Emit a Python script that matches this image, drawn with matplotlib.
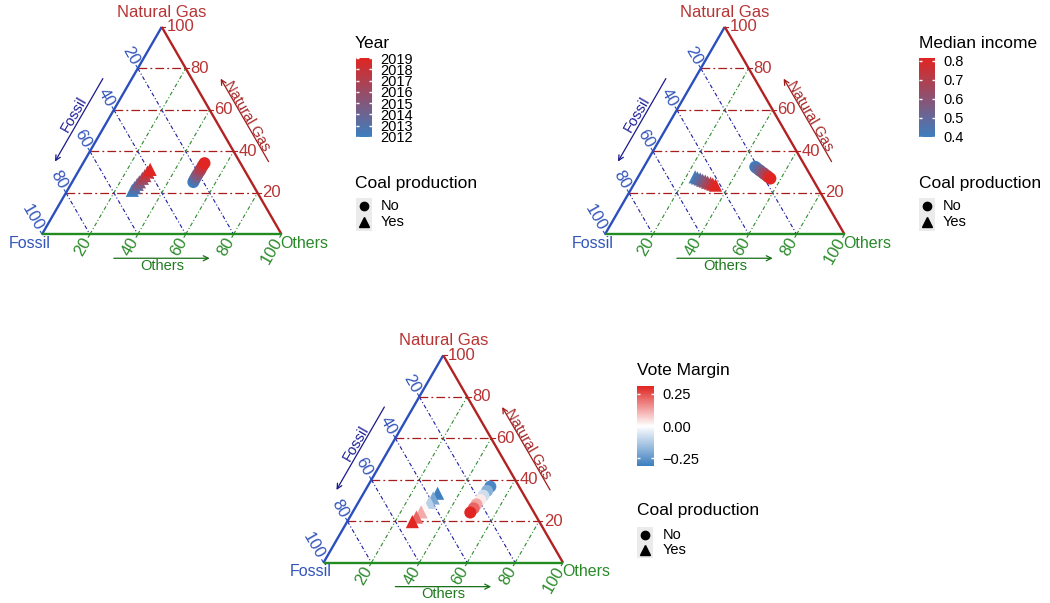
import numpy as np
import matplotlib
matplotlib.use("Agg")
import matplotlib.pyplot as plt
from matplotlib.colors import LinearSegmentedColormap, Normalize
from matplotlib.cm import ScalarMappable

plt.rcParams['font.family'] = ['Liberation Sans', 'DejaVu Sans']

# ---- data (shares in %) ----
years = [2012, 2013, 2014, 2015, 2016, 2017, 2018, 2019]
yr_fossil_no = [24.2, 23.1, 21.8, 20.6, 19.0, 17.9, 16.3, 15.0]
yr_gas_no = [25.2, 26.4, 27.7, 28.9, 30.4, 31.5, 33.1, 34.3]
yr_others_no = [50.6, 50.5, 50.5, 50.5, 50.6, 50.6, 50.6, 50.7]
yr_fossil_yes = [51.7, 50.1, 48.2, 46.7, 44.6, 42.9, 40.9, 39.2]
yr_gas_yes = [21.2, 22.5, 24.1, 25.3, 27.0, 28.3, 30.0, 31.3]
yr_others_yes = [27.1, 27.4, 27.7, 28.0, 28.4, 28.8, 29.1, 29.5]

inc_no = [0.398, 0.44, 0.49, 0.53, 0.58, 0.64, 0.69, 0.75, 0.814]
inc_fossil_no = [21.0, 20.7, 20.1, 19.8, 19.2, 18.9, 18.3, 18.0, 17.5]
inc_gas_no = [32.5, 31.9, 31.0, 30.5, 29.6, 29.1, 28.2, 27.7, 26.9]
inc_others_no = [46.5, 47.4, 48.9, 49.7, 51.2, 52.0, 53.5, 54.3, 55.6]
inc_yes = [0.41, 0.45, 0.50, 0.55, 0.60, 0.66, 0.71, 0.77, 0.81]
inc_fossil_yes = [48.5, 47.8, 46.9, 46.2, 45.3, 44.6, 43.6, 42.9, 42.0]
inc_gas_yes = [27.7, 27.2, 26.7, 26.1, 25.7, 25.1, 24.7, 24.2, 23.7]
inc_others_yes = [23.8, 25.0, 26.4, 27.7, 29.0, 30.3, 31.7, 32.9, 34.3]

vote_no = [-0.29, -0.19, -0.08, 0.03, 0.13, 0.22, 0.31]
vote_fossil_no = [12.0, 14.4, 17.1, 19.4, 22.1, 24.2, 26.6]
vote_gas_no = [36.7, 34.6, 32.3, 30.3, 28.1, 26.2, 24.2]
vote_others_no = [51.3, 51.0, 50.6, 50.3, 49.8, 49.6, 49.2]
vote_yes = [-0.307, -0.21, -0.11, 0.01, 0.12, 0.22, 0.312]
vote_fossil_yes = [35.6, 38.6, 41.2, 44.4, 47.0, 50.2, 53.0]
vote_gas_yes = [33.5, 31.2, 29.1, 26.5, 24.5, 22.0, 19.8]
vote_others_yes = [30.9, 30.2, 29.7, 29.1, 28.5, 27.8, 27.2]

grid_vals = [20, 40, 60, 80]
tick_vals = [20, 40, 60, 80, 100]

# ---- style ----
W, H = 1050, 603
S3 = np.sqrt(3) / 2
RED, BLUE, GREEN = '#B22222', '#2B50BD', '#228B22'
RED_T, BLUE_T, GREEN_T = '#B83333', '#3355BB', '#2A8A2A'
seq_cmap = LinearSegmentedColormap.from_list('seq', ['#3C7EBF', '#E02522'])
div_cmap = LinearSegmentedColormap.from_list('div', ['#3C7EBF', '#FFFFFF', '#E02522'])

fig = plt.figure(figsize=(W / 100, H / 100), dpi=100)


def px_axes(x0, y0, w, h):
    return fig.add_axes([x0 / W, 1 - (y0 + h) / H, w / W, h / H])


def ptext(x, y, s, **kw):
    fig.text(x / W, 1 - y / H, s, **kw)


def tern_xy(fossil, gas, others):
    f, g, o = (np.asarray(a, dtype=float) for a in (fossil, gas, others))
    tot = f + g + o
    return (o + g / 2) / tot, g * S3 / tot


def ternary(x0, y0, side):
    pad = 0.3
    ax = px_axes(x0 - pad * side, y0 - (S3 + pad) * side,
                 (1 + 2 * pad) * side, (S3 + 2 * pad) * side)
    ax.set_xlim(-pad, 1 + pad)
    ax.set_ylim(-pad, S3 + pad)
    ax.axis('off')
    ax.patch.set_alpha(0)

    # grid
    for v in grid_vals:
        x, y = tern_xy([100 - v, 0], [v, v], [0, 100 - v])
        ax.plot(x, y, color='#A81C1C', lw=0.9, ls=(0, (7, 2.5, 1.5, 2.5)), zorder=1)
        x, y = tern_xy([v, v], [100 - v, 0], [0, 100 - v])
        ax.plot(x, y, color='#1C1CA0', lw=0.8, ls=(0, (3.5, 2, 1, 2)), zorder=1)
        x, y = tern_xy([100 - v, 0], [0, 100 - v], [v, v])
        ax.plot(x, y, color='#2E8B2E', lw=0.8, ls=(0, (3.5, 2, 1, 2)), zorder=1)

    # edges
    x, y = tern_xy([100, 0], [0, 100], [0, 0])
    ax.plot(x, y, color=BLUE, lw=1.7, zorder=2, solid_capstyle='butt')
    x, y = tern_xy([0, 0], [100, 0], [0, 100])
    ax.plot(x, y, color=RED, lw=1.7, zorder=2, solid_capstyle='butt')
    x, y = tern_xy([100, 0], [0, 0], [0, 100])
    ax.plot(x, y, color=GREEN, lw=1.7, zorder=2, solid_capstyle='butt')

    # ticks and tick labels
    for v in tick_vals:
        px, py = tern_xy(0, v, 100 - v)
        ax.plot([px, px + 0.014], [py, py], color=RED, lw=0.8)
        ax.text(px + 0.02, py, str(v), color=RED_T, fontsize=12, ha='left', va='center')

        px, py = tern_xy(v, 100 - v, 0)
        d = np.array([-0.5, S3])
        ax.plot([px, px + 0.014 * d[0]], [py, py + 0.014 * d[1]], color=BLUE, lw=0.8)
        ax.text(px + 0.022 * d[0], py + 0.022 * d[1], str(v), color=BLUE_T, fontsize=12,
                ha='right', va='center', rotation=-60, rotation_mode='anchor')

        px, py = tern_xy(100 - v, 0, v)
        d = np.array([-0.5, -S3])
        ax.plot([px, px + 0.014 * d[0]], [py, py + 0.014 * d[1]], color=GREEN, lw=0.8)
        ax.text(px + 0.022 * d[0], py + 0.022 * d[1], str(v), color=GREEN_T, fontsize=12,
                ha='right', va='center', rotation=60, rotation_mode='anchor')

    # vertex titles
    ax.text(0.5, S3 + 0.06, 'Natural Gas', color=RED_T, fontsize=12, ha='center', va='center')
    ax.text(-0.052, -0.038, 'Fossil', color=BLUE_T, fontsize=11.5, ha='center', va='center')
    ax.text(0.996, -0.038, 'Others', color=GREEN_T, fontsize=11.5, ha='left', va='center')

    # arrows
    aprops = dict(arrowstyle='->', lw=0.9, mutation_scale=9, shrinkA=0, shrinkB=0)
    ax.annotate('', xy=(0.7, -0.1), xytext=(0.3, -0.1),
                arrowprops=dict(aprops, color='#167016'))
    ax.text(0.5, -0.132, 'Others', color='#1E7B1E', fontsize=10.5, ha='center', va='center')

    nl = np.array([-S3, 0.5])
    def lpt(t, off):
        return np.array([t / 2, t * S3]) + off * nl
    ax.annotate('', xy=lpt(0.29, 0.105), xytext=lpt(0.69, 0.105),
                arrowprops=dict(aprops, color='#1A1A8C'))
    p = lpt(0.5, 0.134)
    ax.text(p[0], p[1], 'Fossil', color='#1E1E96', fontsize=10.5, ha='center', va='center',
            rotation=60, rotation_mode='anchor')

    nr = np.array([S3, 0.5])
    def rpt(t, off):
        return np.array([1 - t / 2, t * S3]) + off * nr
    ax.annotate('', xy=rpt(0.69, 0.105), xytext=rpt(0.29, 0.105),
                arrowprops=dict(aprops, color='#A01C1C'))
    p = rpt(0.5, 0.122)
    ax.text(p[0], p[1], 'Natural Gas', color='#A52A2A', fontsize=10.5, ha='center', va='center',
            rotation=-60, rotation_mode='anchor')
    return ax


def colorbar(x0, y0, w, h, norm, cmap, ticks, labels, size):
    cax = px_axes(x0, y0, w, h)
    cb = fig.colorbar(ScalarMappable(norm=norm, cmap=cmap), cax=cax)
    cb.outline.set_visible(False)
    cb.minorticks_off()
    cb.set_ticks(ticks)
    cb.set_ticklabels(labels)
    cax.tick_params(axis='y', which='major', direction='in', length=2.5, width=1,
                    color='white', left=True, right=True, labelleft=False,
                    labelright=True, labelsize=size, pad=6)
    return cb


def coal_key(x0, y0, w, h, lab_x, y_no, y_yes):
    kax = px_axes(x0, y0, w, h)
    kax.set_facecolor('#EBEBEB')
    kax.set_xlim(0, 1)
    kax.set_ylim(0, 1)
    kax.set_xticks([])
    kax.set_yticks([])
    for s in kax.spines.values():
        s.set_visible(False)
    kax.plot([0.5], [1 - (y_no - y0) / h], 'o', color='black', ms=6)
    kax.plot([0.5], [1 - (y_yes - y0) / h], '^', color='black', ms=6.5)
    ptext(lab_x, y_no, 'No', fontsize=10.5, va='center')
    ptext(lab_x, y_yes, 'Yes', fontsize=10.5, va='center')


# ---- panel 1: year ----
ax1 = ternary(42, 234.3, 239.5)
norm1 = Normalize(vmin=min(years), vmax=max(years))
x, y = tern_xy(yr_fossil_no, yr_gas_no, yr_others_no)
ax1.scatter(x, y, c=years, cmap=seq_cmap, norm=norm1, marker='o', s=75, edgecolors='none', zorder=5)
x, y = tern_xy(yr_fossil_yes, yr_gas_yes, yr_others_yes)
ax1.scatter(x, y, c=years, cmap=seq_cmap, norm=norm1, marker='^', s=90, edgecolors='none', zorder=5)
ptext(355, 43, 'Year', fontsize=12.5, va='center')
colorbar(356, 58, 16, 79, norm1, seq_cmap, years, [str(v) for v in years], 10.5)
ptext(355, 183, 'Coal production', fontsize=12.5, va='center')
coal_key(356, 198, 16, 33, 381, 206, 222)

# ---- panel 2: median income ----
ax2 = ternary(605, 234.3, 239.5)
norm2 = Normalize(vmin=min(inc_no + inc_yes), vmax=max(inc_no + inc_yes))
x, y = tern_xy(inc_fossil_no, inc_gas_no, inc_others_no)
ax2.scatter(x, y, c=inc_no, cmap=seq_cmap, norm=norm2, marker='o', s=75, edgecolors='none', zorder=5)
x, y = tern_xy(inc_fossil_yes, inc_gas_yes, inc_others_yes)
ax2.scatter(x, y, c=inc_yes, cmap=seq_cmap, norm=norm2, marker='^', s=90, edgecolors='none', zorder=5)
ptext(919, 43, 'Median income', fontsize=12.5, va='center')
inc_ticks = [0.4, 0.5, 0.6, 0.7, 0.8]
colorbar(919, 58, 16, 79, norm2, seq_cmap, inc_ticks, [f'{v:.1f}' for v in inc_ticks], 10.5)
ptext(919, 183, 'Coal production', fontsize=12.5, va='center')
coal_key(919, 198, 16, 33, 943, 206, 222)

# ---- panel 3: vote margin ----
ax3 = ternary(323.5, 562.7, 239.5)
m = max(abs(v) for v in vote_no + vote_yes)
norm3 = Normalize(vmin=-m, vmax=m)
x, y = tern_xy(vote_fossil_no, vote_gas_no, vote_others_no)
ax3.scatter(x, y, c=vote_no, cmap=div_cmap, norm=norm3, marker='o', s=75, edgecolors='none', zorder=5)
x, y = tern_xy(vote_fossil_yes, vote_gas_yes, vote_others_yes)
ax3.scatter(x, y, c=vote_yes, cmap=div_cmap, norm=norm3, marker='^', s=90, edgecolors='none', zorder=5)
ptext(637, 370, 'Vote Margin', fontsize=12.5, va='center')
colorbar(637, 386, 17, 80, norm3, div_cmap, [-0.25, 0, 0.25], ['\u22120.25', '0.00', '0.25'], 10.5)
ptext(637, 511, 'Coal production', fontsize=12.5, va='center')
coal_key(637, 527, 16, 31, 663, 535, 550)

fig.savefig('out.png', dpi=100)
